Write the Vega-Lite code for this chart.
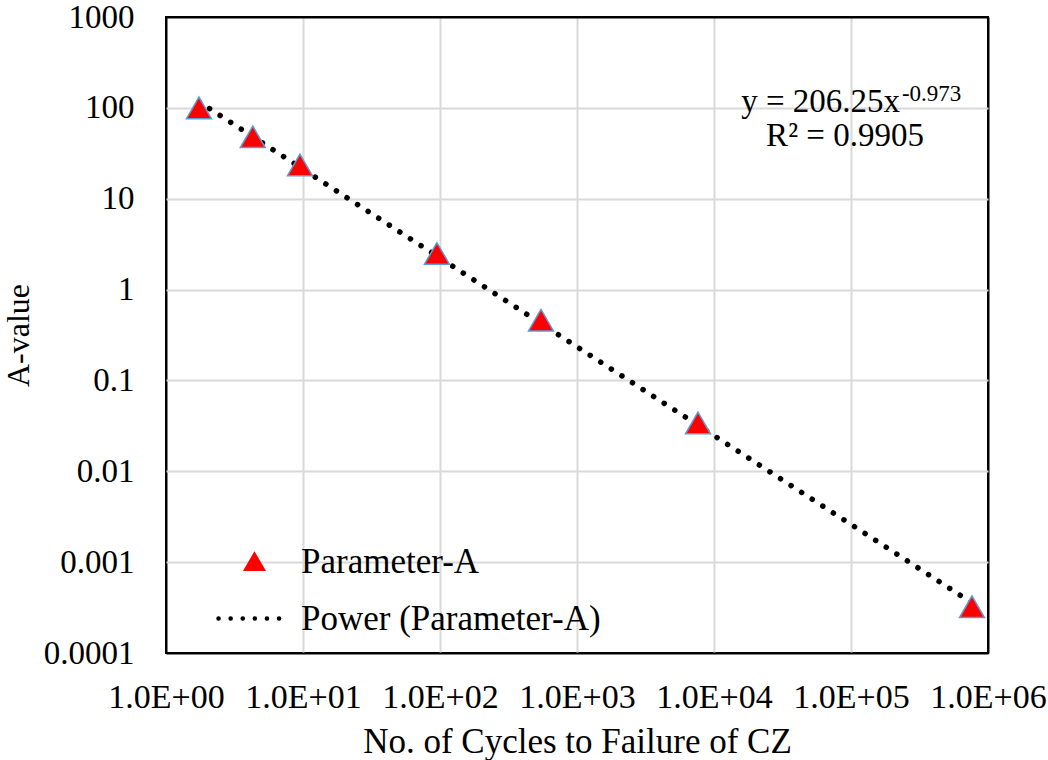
{
  "$schema": "https://vega.github.io/schema/vega-lite/v6.json",
  "width": 822,
  "height": 636,
  "autosize": {"type": "none"},
  "padding": {"left": 166, "top": 17, "right": 60, "bottom": 107},
  "background": "white",
  "config": {
    "view": {"stroke": "black", "strokeWidth": 2},
    "font": "Liberation Serif",
    "text": {"font": "Liberation Serif"},
    "legend": {"labelFont": "Liberation Serif", "labelLimit": 0},
    "axis": {
      "labelFont": "Liberation Serif",
      "labelColor": "black",
      "titleFont": "Liberation Serif",
      "titleFontWeight": "normal",
      "titleColor": "black",
      "grid": true,
      "gridWidth": 2,
      "ticks": false,
      "domain": false,
      "labelOverlap": false,
      "labelFlush": false,
      "labelBound": false
    }
  },
  "datasets": {
    "points": [
      {"N": 1.74, "A": 100},
      {"N": 4.3, "A": 48},
      {"N": 9.5, "A": 23.5},
      {"N": 95, "A": 2.5},
      {"N": 546, "A": 0.46},
      {"N": 7640, "A": 0.034},
      {"N": 764000, "A": 0.000323}
    ],
    "notes": [
      {"N": 228000, "A": 117, "label": "y = 206.25x", "kind": "main"},
      {"N": 235500, "A": 143, "label": "-0.973", "kind": "sup"},
      {"N": 90400, "A": 49.5, "label": "R² = 0.9905", "kind": "r2"}
    ]
  },
  "layer": [
    {
      "data": {"name": "points"},
      "transform": [{"regression": "A", "on": "N", "method": "pow"}],
      "mark": {"type": "line", "strokeWidth": 5.5, "strokeCap": "round", "strokeDash": [0.1, 12.5]},
      "encoding": {
        "x": {
          "field": "N", "type": "quantitative",
          "scale": {"type": "log", "domain": [1, 1000000], "nice": false},
          "axis": {
            "values": [1, 10, 100, 1000, 10000, 100000, 1000000],
            "labelExpr": "'1.0E+0' + format(log(datum.value)/LN10, '.0f')",
            "labelFontSize": 34,
            "labelPadding": 27,
            "titleFontSize": 35,
            "titlePadding": 10,
            "gridColor": {"condition": {"test": "datum.value < 1.5 || datum.value > 999999", "value": "black"}, "value": "#d9d9d9"},
            "title": "No. of Cycles to Failure of CZ"
          }
        },
        "y": {
          "field": "A", "type": "quantitative",
          "scale": {"type": "log", "domain": [0.0001, 1000], "nice": false},
          "axis": {
            "values": [0.0001, 0.001, 0.01, 0.1, 1, 10, 100, 1000],
            "labelExpr": "format(datum.value, '~g')",
            "labelFontSize": 33,
            "labelPadding": 32,
            "titleFontSize": 32,
            "titlePadding": 8,
            "gridColor": {"condition": {"test": "datum.value < 0.00015 || datum.value > 999", "value": "black"}, "value": "#d9d9d9"},
            "title": "A-value"
          }
        },
        "color": {
          "datum": "Power (Parameter-A)",
          "scale": {"domain": ["Parameter-A", "Power (Parameter-A)"], "range": ["#ff0000", "#000000"]},
          "legend": {
            "orient": "none",
            "legendX": 71,
            "legendY": 527,
            "title": null,
            "labelFont": "Liberation Serif",
            "labelFontSize": 35,
            "labelColor": "black",
            "labelLimit": 0,
            "labelOffset": 29,
            "symbolSize": 5184,
            "rowPadding": 21,
            "padding": 0,
            "encode": {
              "symbols": {
                "update": {
                  "shape": {"signal": "datum.value === 'Parameter-A' ? 'triangle-up' : 'stroke'"},
                  "fill": {"signal": "datum.value === 'Parameter-A' ? '#ff0000' : 'transparent'"},
                  "stroke": {"signal": "datum.value === 'Parameter-A' ? '#5b9bd5' : '#000000'"},
                  "strokeWidth": {"signal": "datum.value === 'Parameter-A' ? 1.5 : 4.5"},
                  "strokeDash": {"signal": "datum.value === 'Parameter-A' ? [] : [0.1, 12]"},
                  "strokeCap": {"value": "round"},
                  "size": {"signal": "datum.value === 'Parameter-A' ? 420 : 5184"},
                  "opacity": {"value": 1}
                }
              }
            }
          }
        }
      }
    },
    {
      "data": {"name": "points"},
      "mark": {"type": "point", "shape": "triangle-up", "filled": true, "size": 620, "stroke": "#5b9bd5", "strokeWidth": 1.5, "opacity": 1},
      "encoding": {
        "x": {"field": "N", "type": "quantitative"},
        "y": {"field": "A", "type": "quantitative"},
        "color": {"datum": "Parameter-A"}
      }
    },
    {
      "data": {"name": "notes"},
      "transform": [{"filter": "datum.kind === 'main'"}],
      "mark": {"type": "text", "align": "right", "baseline": "middle", "fontSize": 33, "font": "Liberation Serif", "color": "black"},
      "encoding": {
        "x": {"field": "N", "type": "quantitative"},
        "y": {"field": "A", "type": "quantitative"},
        "text": {"field": "label"}
      }
    },
    {
      "data": {"name": "notes"},
      "transform": [{"filter": "datum.kind === 'sup'"}],
      "mark": {"type": "text", "align": "left", "baseline": "middle", "fontSize": 23, "font": "Liberation Serif", "color": "black"},
      "encoding": {
        "x": {"field": "N", "type": "quantitative"},
        "y": {"field": "A", "type": "quantitative"},
        "text": {"field": "label"}
      }
    },
    {
      "data": {"name": "notes"},
      "transform": [{"filter": "datum.kind === 'r2'"}],
      "mark": {"type": "text", "align": "center", "baseline": "middle", "fontSize": 33, "font": "Liberation Serif", "color": "black"},
      "encoding": {
        "x": {"field": "N", "type": "quantitative"},
        "y": {"field": "A", "type": "quantitative"},
        "text": {"field": "label"}
      }
    }
  ]
}
